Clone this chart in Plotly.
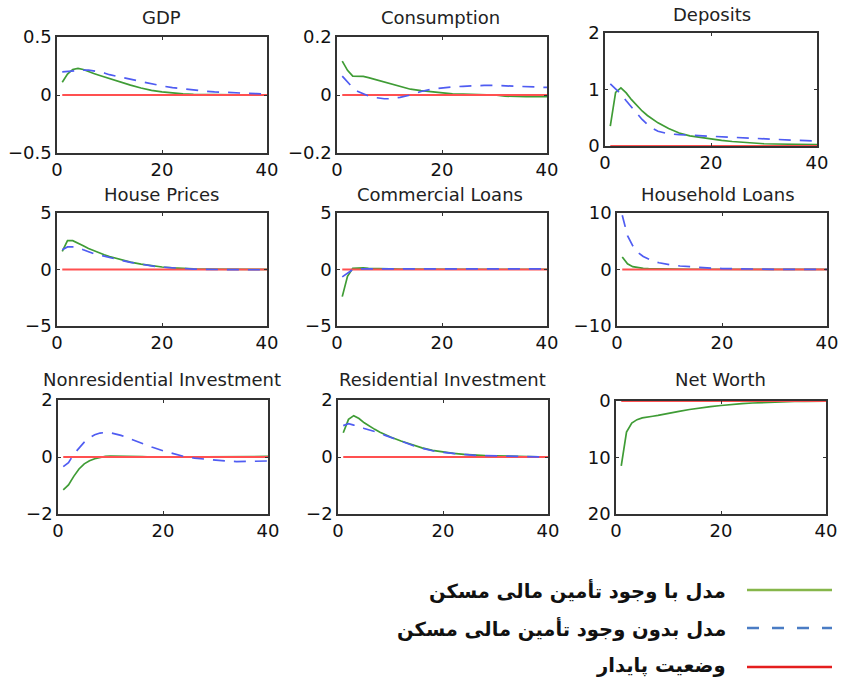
import plotly.graph_objects as go

# ---------------- data ----------------
X = [1, 2, 3, 4, 5, 6, 7, 8, 9, 10, 12, 14, 16, 18, 20, 22, 24, 26, 28, 30, 32, 34, 36, 38, 40]

titles = ["GDP", "Consumption", "Deposits",
          "House Prices", "Commercial Loans", "Household Loans",
          "Nonresidential Investment", "Residential Investment", "Net Worth"]

gdp_with = [0.11, 0.18, 0.22, 0.23, 0.22, 0.20, 0.185, 0.17, 0.155, 0.14, 0.11, 0.085, 0.06, 0.04, 0.027, 0.017, 0.01, 0.006, 0.004, 0.002, 0.001, 0, 0, 0, 0]
gdp_without = [0.20, 0.205, 0.21, 0.21, 0.215, 0.215, 0.21, 0.2, 0.19, 0.175, 0.155, 0.135, 0.115, 0.095, 0.078, 0.064, 0.052, 0.042, 0.034, 0.027, 0.022, 0.017, 0.014, 0.011, 0.009]

cons_with = [0.117, 0.085, 0.065, 0.065, 0.064, 0.06, 0.055, 0.05, 0.045, 0.04, 0.03, 0.02, 0.015, 0.011, 0.007, 0.004, 0.003, 0.002, 0.001, 0, -0.004, -0.006, -0.006, -0.006, -0.006]
cons_without = [0.065, 0.045, 0.025, 0.012, 0.004, -0.003, -0.008, -0.011, -0.013, -0.013, -0.008, 0.0, 0.012, 0.02, 0.025, 0.028, 0.03, 0.032, 0.033, 0.033, 0.032, 0.031, 0.03, 0.028, 0.026]

dep_with = [0.35, 0.95, 1.03, 0.94, 0.82, 0.71, 0.62, 0.54, 0.47, 0.41, 0.31, 0.23, 0.18, 0.15, 0.125, 0.10, 0.08, 0.065, 0.05, 0.04, 0.035, 0.03, 0.028, 0.026, 0.025]
dep_without = [1.1, 1.01, 0.92, 0.8, 0.69, 0.57, 0.47, 0.38, 0.31, 0.26, 0.215, 0.2, 0.19, 0.185, 0.178, 0.17, 0.16, 0.145, 0.13, 0.12, 0.113, 0.107, 0.1, 0.095, 0.09]

hp_with = [1.6, 2.55, 2.55, 2.35, 2.1, 1.85, 1.65, 1.48, 1.3, 1.15, 0.88, 0.65, 0.48, 0.33, 0.22, 0.15, 0.09, 0.06, 0.04, 0.03, 0.02, 0.015, 0.01, 0.01, 0.01]
hp_without = [1.75, 2.0, 2.0, 1.95, 1.75, 1.55, 1.4, 1.3, 1.2, 1.08, 0.84, 0.63, 0.46, 0.32, 0.21, 0.14, 0.08, 0.04, 0.01, -0.01, -0.02, -0.02, -0.02, -0.02, -0.02]

cl_with = [-2.4, -0.6, 0.1, 0.15, 0.15, 0.1, 0.08, 0.06, 0.05, 0.04, 0.04, 0.04, 0.03, 0.03, 0.03, 0.03, 0.02, 0.02, 0.02, 0.02, 0.02, 0.02, 0.02, 0.02, 0.02]
cl_without = [-0.65, -0.3, 0.0, 0.05, 0.05, 0.05, 0.05, 0.05, 0.05, 0.05, 0.05, 0.05, 0.05, 0.05, 0.05, 0.05, 0.05, 0.05, 0.05, 0.05, 0.05, 0.05, 0.05, 0.05, 0.05]

hl_with = [2.2, 1.0, 0.5, 0.3, 0.2, 0.15, 0.12, 0.1, 0.08, 0.06, 0.05, 0.04, 0.04, 0.03, 0.03, 0.03, 0.02, 0.02, 0.02, 0.02, 0.02, 0.02, 0.02, 0.02, 0.02]
hl_without = [9.6, 6.0, 4.2, 3.0, 2.3, 1.8, 1.45, 1.2, 1.0, 0.85, 0.62, 0.45, 0.33, 0.24, 0.17, 0.12, 0.08, 0.06, 0.04, 0.03, 0.02, 0.02, 0.02, 0.02, 0.02]

nri_with = [-1.15, -0.98, -0.68, -0.42, -0.24, -0.13, -0.06, -0.01, 0.02, 0.03, 0.03, 0.02, 0.01, 0.0, 0, 0, 0, 0, 0, 0.0, 0.01, 0.02, 0.02, 0.02, 0.02]
nri_without = [-0.34, -0.2, 0.1, 0.32, 0.52, 0.68, 0.78, 0.84, 0.86, 0.85, 0.76, 0.62, 0.47, 0.34, 0.22, 0.11, 0.02, -0.04, -0.08, -0.11, -0.14, -0.16, -0.16, -0.15, -0.14]

ri_with = [0.85, 1.32, 1.45, 1.35, 1.2, 1.07, 0.97, 0.87, 0.78, 0.7, 0.56, 0.43, 0.32, 0.23, 0.17, 0.13, 0.09, 0.06, 0.05, 0.04, 0.03, 0.03, 0.01, 0.0, 0.0]
ri_without = [1.1, 1.17, 1.12, 1.08, 1.0, 0.95, 0.9, 0.84, 0.76, 0.69, 0.55, 0.42, 0.31, 0.22, 0.16, 0.12, 0.08, 0.06, 0.05, 0.04, 0.04, 0.03, 0.01, 0.0, 0.0]

nw_with = [11.5, 5.5, 3.9, 3.3, 3.0, 2.8, 2.7, 2.55, 2.4, 2.2, 1.85, 1.5, 1.2, 1.0, 0.8, 0.6, 0.45, 0.35, 0.25, 0.18, 0.12, 0.08, 0.05, 0.03, 0.02]
nw_without = None

steady = [0] * len(X)

with_series = [gdp_with, cons_with, dep_with, hp_with, cl_with, hl_with, nri_with, ri_with, nw_with]
without_series = [gdp_without, cons_without, dep_without, hp_without, cl_without, hl_without, nri_without, ri_without, nw_without]

y_ranges = [[-0.5, 0.5], [-0.2, 0.2], [0, 2],
            [-5, 5], [-5, 5], [-10, 10],
            [-2, 2], [-2, 2], [20, 0]]
y_ticks = [[-0.5, 0, 0.5], [-0.2, 0, 0.2], [0, 1, 2],
           [-5, 0, 5], [-5, 0, 5], [-10, 0, 10],
           [-2, 0, 2], [-2, 0, 2], [0, 10, 20]]
y_ticktext = [["−0.5", "0", "0.5"], ["−0.2", "0", "0.2"], ["0", "1", "2"],
              ["−5", "0", "5"], ["−5", "0", "5"], ["−10", "0", "10"],
              ["−2", "0", "2"], ["−2", "0", "2"], ["0", "10", "20"]]
x_ticks = [0, 20, 40]

legend_labels = ["مدل با وجود تأمین مالی مسکن",
                 "مدل بدون وجود تأمین مالی مسکن",
                 "وضعیت پایدار"]

# ---------------- layout geometry (window pixels) ----------------
W, H = 841, 677


def fx(px):
    return px / W


def fy(py):
    return 1 - py / H


boxes = [  # x0, x1, y0(top), y1(bottom)
    (57, 267, 37, 153), (337, 547, 37, 153), (605, 817, 33, 146),
    (57, 267, 213, 326), (337, 547, 213, 326), (617, 827, 213, 326),
    (58, 268, 400, 514), (338, 548, 400, 514), (616, 826, 401, 514),
]
title_pos = [(161, 18), (440, 18), (712, 14),
             (161, 195), (440, 195), (718, 195),
             (162, 380), (442, 380), (720, 380)]

GREEN = "#3f9c35"
BLUE = "#4f5cf2"
RED = "#ff5050"
AXC = "#333333"
FONT = "DejaVu Sans"

fig = go.Figure()
layout = dict(
    width=W, height=H, margin=dict(l=0, r=0, t=0, b=0, autoexpand=False),
    paper_bgcolor="white", plot_bgcolor="white", showlegend=False,
    font=dict(family=FONT, size=17, color="#111"),
)
annotations = []
shapes = []

for i in range(9):
    sx = "" if i == 0 else str(i + 1)
    xa, ya = "x" + sx, "y" + sx
    x0, x1, t, b = boxes[i]
    layout["xaxis" + sx] = dict(
        domain=[fx(x0), fx(x1)], anchor=ya, range=[0, 40], automargin=False,
        tickvals=x_ticks, ticks="inside", ticklen=3, tickcolor=AXC,
        showline=True, linecolor=AXC, linewidth=1.6, mirror="ticks",
        showgrid=False, zeroline=False,
        tickfont=dict(family=FONT, size=18, color="#111"),
    )
    layout["yaxis" + sx] = dict(
        domain=[fy(b), fy(t)], anchor=xa, range=y_ranges[i], automargin=False,
        tickvals=y_ticks[i], ticktext=y_ticktext[i], ticks="inside", ticklen=3, tickcolor=AXC,
        showline=True, linecolor=AXC, linewidth=1.6, mirror="ticks",
        showgrid=False, zeroline=False,
        tickfont=dict(family=FONT, size=18, color="#111"),
    )
    fig.add_trace(go.Scatter(x=X, y=with_series[i], mode="lines", xaxis=xa, yaxis=ya,
                             line=dict(color=GREEN, width=1.7)))
    fig.add_trace(go.Scatter(x=X, y=steady, mode="lines", xaxis=xa, yaxis=ya,
                             line=dict(color=RED, width=1.8)))
    if without_series[i] is not None:
        fig.add_trace(go.Scatter(x=X, y=without_series[i], mode="lines", xaxis=xa, yaxis=ya,
                                 line=dict(color=BLUE, width=1.7, dash="12px,9px")))
    tx, ty = title_pos[i]
    annotations.append(dict(text=titles[i], x=fx(tx), y=fy(ty), xref="paper", yref="paper",
                            xanchor="center", yanchor="middle", showarrow=False,
                            font=dict(family=FONT, size=18, color="#222")))

# ---------------- legend (drawn manually, text left of line) ----------------
leg_y = [590, 628, 667]
leg_text_y = [591, 629, 665]
leg_colors = ["#86b64a", "#4a7cc4", "#e41e1e"]
leg_dash = ["solid", "12px,13px", "solid"]
for k in range(3):
    shapes.append(dict(type="line", xref="paper", yref="paper",
                       x0=fx(747), x1=fx(832), y0=fy(leg_y[k]), y1=fy(leg_y[k]),
                       line=dict(color=leg_colors[k], width=2.5, dash=leg_dash[k])))
    annotations.append(dict(text="<b>" + legend_labels[k] + "</b>", x=fx(728), y=fy(leg_text_y[k]),
                            xref="paper", yref="paper", xanchor="right", yanchor="middle",
                            showarrow=False, font=dict(family=FONT, size=19.5, color="#111")))

layout["annotations"] = annotations
layout["shapes"] = shapes
fig.update_layout(**layout)
# remove the default 8px page margin so the 841x677 figure fills the window exactly
fig.write_html("out.html",
               config={"displayModeBar": False},
               post_script="document.body.style.margin='0';document.body.style.overflow='hidden';")
